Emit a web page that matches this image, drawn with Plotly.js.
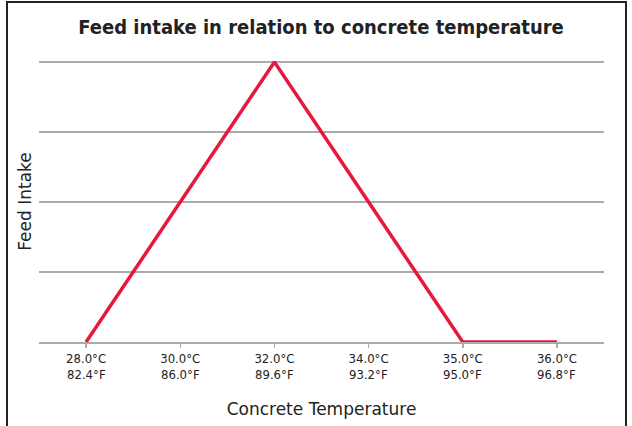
<!DOCTYPE html>
<html><head><meta charset="utf-8">
<script src="https://cdn.plot.ly/plotly-3.0.1.min.js"></script>
<style>
html,body{margin:0;padding:0;background:#fff;overflow:hidden}
#chart{width:632px;height:426px}
#frame{position:absolute;left:6px;top:1px;width:621px;height:440px;border:2px solid #222;pointer-events:none;box-sizing:border-box}
</style></head>
<body>
<div id="chart"></div>
<div id="frame"></div>
<script>
const categoriesC = ["28.0°C","30.0°C","32.0°C","34.0°C","35.0°C","36.0°C"];
const categoriesF = ["82.4°F","86.0°F","89.6°F","93.2°F","95.0°F","96.8°F"];
const feedIntake = [0, 2, 4, 2, 0, 0];
const xs = categoriesC.map((c,i)=>i);
const tickFont = {size:13, family:"DejaVu Sans Condensed, DejaVu Sans", color:"#222"};

const fAnnotations = categoriesF.map((t,i)=>({
  x:xs[i], xref:"x", y:0, yref:"paper", yanchor:"middle", xanchor:"center",
  yshift:-32, text:t, showarrow:false, font:tickFont
}));

Plotly.newPlot("chart",[{
  x: xs, y: feedIntake, type:"scatter", mode:"lines",
  line:{color:"#E8173E", width:3.5}, cliponaxis:false, hoverinfo:"skip"
}],{
  width:632, height:426,
  margin:{l:39, r:28, t:61, b:84},
  paper_bgcolor:"#fff", plot_bgcolor:"#fff",
  showlegend:false,
  font:{family:"DejaVu Sans", color:"#222"},
  title:{text:"<b>Feed intake in relation to concrete temperature</b>", font:{size:20, family:"DejaVu Sans Condensed, DejaVu Sans", color:"#222"}, x:0.508, xanchor:"center", y:0.937, yanchor:"middle"},
  xaxis:{
    tickmode:"array", tickvals:xs, ticktext:categoriesC,
    range:[-0.5,5.5], showgrid:false, zeroline:false,
    showline:true, linecolor:"#AAAAAA", linewidth:1.5,
    ticks:"outside", tickson:"boundaries", ticklen:4, tickcolor:"#AAAAAA", tickwidth:1.5,
    tickfont:tickFont,
    title:{text:"Concrete Temperature", font:{size:17, family:"DejaVu Sans", color:"#222"}, standoff:38}
  },
  yaxis:{
    range:[0,4.015], tickvals:[0,1,2,3,4], showticklabels:false,
    showgrid:true, gridcolor:"#AAAAAA", gridwidth:1.5, zeroline:false, showline:false,
    title:{text:"Feed Intake", font:{size:17, family:"DejaVu Sans", color:"#222"}, standoff:2}
  },
  annotations: fAnnotations
},{displayModeBar:false, staticPlot:true});
</script>
</body></html>
